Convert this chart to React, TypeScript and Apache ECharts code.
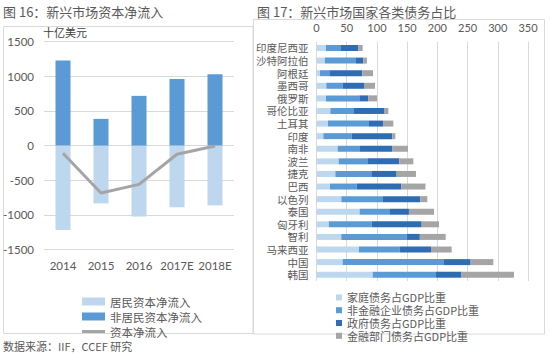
import React, { useEffect, useRef } from 'react';
import * as echarts from 'echarts';

// ---- Figure 16 data (十亿美元) ----
const years = ['2014', '2015', '2016', '2017E', '2018E'];
const residentFlow = [-1220, -835, -1025, -890, -862];
const nonResidentFlow = [1230, 386, 718, 963, 1031];
const netFlow = [-110, -685, -560, -125, -5];
const leftTicks = { min: -1500, max: 1500, interval: 500 };

// ---- Figure 17 data (% of GDP) ----
const countries = ['印度尼西亚', '沙特阿拉伯', '阿根廷', '墨西哥', '俄罗斯', '哥伦比亚', '土耳其', '印度', '南非', '波兰', '捷克', '巴西', '以色列', '泰国', '匈牙利', '智利', '马来西亚', '中国', '韩国'];
const householdDebt = [15.7, 14, 5.8, 16.3, 15.7, 22.9, 19, 11.3, 35, 36.7, 31.2, 22.3, 41.1, 71.4, 20.4, 41, 70.3, 43.3, 93];
const nonFinCorpDebt = [24.8, 51.4, 15.4, 27, 55.2, 38.1, 67.9, 46.9, 37, 48.5, 59.5, 44.2, 68.9, 50.2, 70.9, 108, 67.7, 166.7, 104.7];
const governmentDebt = [28.7, 12, 54.6, 35.3, 14.9, 50.7, 23.1, 67.3, 53, 51.8, 41.9, 73.8, 61.8, 31.4, 82.7, 22, 51.5, 45, 42.3];
const financialDebt = [7.2, 6, 17.7, 18.2, 14.3, 7.2, 17.1, 5, 26.4, 23.2, 32, 40, 11.6, 41.5, 28.7, 42.8, 34.2, 37.6, 86.8];
const rightTicks = { min: 0, max: 350, interval: 50 };

const CJK = '"Noto Sans CJK SC", sans-serif';
const NUM = 'Lato, "Noto Sans CJK SC", sans-serif';
const TEXT = '#595959';
const GRID = '#D9D9D9';
const LIGHT = '#BDD7EE';
const MID = '#5B9BD5';
const DARK = '#2E6DB4';
const GRAY = '#A5A5A5';

export default function App() {
  const ref = useRef<HTMLDivElement>(null);
  useEffect(() => {
    const chart = echarts.init(ref.current!, null, { renderer: 'svg' });
    chart.setOption({
      animation: false,
      backgroundColor: '#fff',
      grid: [
        { left: 44, top: 41.7, width: 190, height: 207.8, containLabel: false },
        { left: 316.5, top: 41.7, width: 211.5, height: 239.3, containLabel: false },
      ],
      xAxis: [
        {
          gridIndex: 0,
          type: 'category',
          data: years,
          axisLine: { show: false },
          axisTick: { show: false },
          axisLabel: { interval: 0, color: TEXT, fontFamily: NUM, fontSize: 11.5, margin: 10 },
        },
        {
          gridIndex: 1,
          type: 'value',
          position: 'top',
          ...rightTicks,
          axisLine: { show: false },
          axisTick: { show: false },
          axisLabel: { color: TEXT, fontFamily: NUM, fontSize: 11, margin: 9 },
          splitLine: { show: true, lineStyle: { color: GRID, width: 1 } },
        },
      ],
      yAxis: [
        {
          gridIndex: 0,
          type: 'value',
          ...leftTicks,
          axisLine: { show: false },
          axisTick: { show: false },
          axisLabel: { color: TEXT, fontFamily: NUM, fontSize: 11.5, margin: 10, formatter: (v: number) => String(v) },
          splitLine: { show: true, lineStyle: { color: GRID, width: 1 } },
        },
        {
          gridIndex: 1,
          type: 'category',
          data: countries,
          inverse: true,
          axisLine: { show: false },
          axisTick: { show: false },
          axisLabel: { interval: 0, color: TEXT, fontFamily: CJK, fontSize: 10.5, lineHeight: 12, margin: 8 },
        },
      ],
      legend: [
        {
          orient: 'vertical',
          left: 77,
          top: 290.5,
          itemWidth: 23,
          itemHeight: 8,
          itemGap: 3,
          textStyle: { color: TEXT, fontFamily: CJK, fontSize: 11.5, lineHeight: 12 },
          data: [
            { name: '居民资本净流入', icon: 'rect' },
            { name: '非居民资本净流入', icon: 'rect' },
            { name: '资本净流入', icon: 'path://M0 0H23V3H0Z', itemStyle: { color: GRAY } },
          ],
        },
        {
          orient: 'vertical',
          left: 331,
          top: 286,
          itemWidth: 6,
          itemHeight: 6,
          itemGap: 0,
          textStyle: { color: TEXT, fontFamily: CJK, fontSize: 11, lineHeight: 12.8 },
          data: [
            { name: '家庭债务占GDP比重', icon: 'rect' },
            { name: '非金融企业债务占GDP比重', icon: 'rect' },
            { name: '政府债务占GDP比重', icon: 'rect' },
            { name: '金融部门债务占GDP比重', icon: 'rect' },
          ],
        },
      ],
      series: [
        {
          name: '居民资本净流入',
          type: 'bar',
          xAxisIndex: 0,
          yAxisIndex: 0,
          stack: 'flow',
          barWidth: 15,
          itemStyle: { color: LIGHT },
          data: residentFlow,
        },
        {
          name: '非居民资本净流入',
          type: 'bar',
          xAxisIndex: 0,
          yAxisIndex: 0,
          stack: 'flow',
          barWidth: 15,
          itemStyle: { color: MID },
          data: nonResidentFlow,
        },
        {
          name: '资本净流入',
          type: 'line',
          xAxisIndex: 0,
          yAxisIndex: 0,
          symbol: 'none',
          lineStyle: { color: GRAY, width: 3 },
          itemStyle: { color: GRAY },
          data: netFlow,
          z: 5,
        },
        {
          name: '家庭债务占GDP比重',
          type: 'bar',
          xAxisIndex: 1,
          yAxisIndex: 1,
          stack: 'debt',
          barWidth: 6,
          itemStyle: { color: LIGHT },
          data: householdDebt,
        },
        {
          name: '非金融企业债务占GDP比重',
          type: 'bar',
          xAxisIndex: 1,
          yAxisIndex: 1,
          stack: 'debt',
          barWidth: 6,
          itemStyle: { color: MID },
          data: nonFinCorpDebt,
        },
        {
          name: '政府债务占GDP比重',
          type: 'bar',
          xAxisIndex: 1,
          yAxisIndex: 1,
          stack: 'debt',
          barWidth: 6,
          itemStyle: { color: DARK },
          data: governmentDebt,
        },
        {
          name: '金融部门债务占GDP比重',
          type: 'bar',
          xAxisIndex: 1,
          yAxisIndex: 1,
          stack: 'debt',
          barWidth: 6,
          itemStyle: { color: GRAY },
          data: financialDebt,
        },
      ],
      graphic: [
        { type: 'rect', shape: { x: 3.5, y: 26.5, width: 249.5, height: 307 }, style: { fill: 'none', stroke: GRID, lineWidth: 1 }, silent: true },
        { type: 'rect', shape: { x: 253.5, y: 19.5, width: 291, height: 314.5 }, style: { fill: 'none', stroke: GRID, lineWidth: 1 }, silent: true },
        { type: 'text', x: 3, y: 11.5, style: { text: '图 16：新兴市场资本净流入', fill: TEXT, font: `13px ${CJK}`, verticalAlign: 'middle' } },
        { type: 'text', x: 257, y: 11.5, style: { text: '图 17：新兴市场国家各类债务占比', fill: TEXT, font: `13px ${CJK}`, verticalAlign: 'middle' } },
        { type: 'text', x: 43, y: 31.5, style: { text: '十亿美元', fill: '#404040', font: `11px ${CJK}`, verticalAlign: 'middle' } },
        { type: 'text', x: 3, y: 345.5, style: { text: '数据来源：IIF，CCEF 研究', fill: TEXT, font: `11px ${CJK}`, verticalAlign: 'middle' } },
      ],
    });
    return () => chart.dispose();
  }, []);
  return <div ref={ref} style={{ position: 'fixed', left: 0, top: 0, width: 550, height: 354, background: '#fff' }} />;
}
